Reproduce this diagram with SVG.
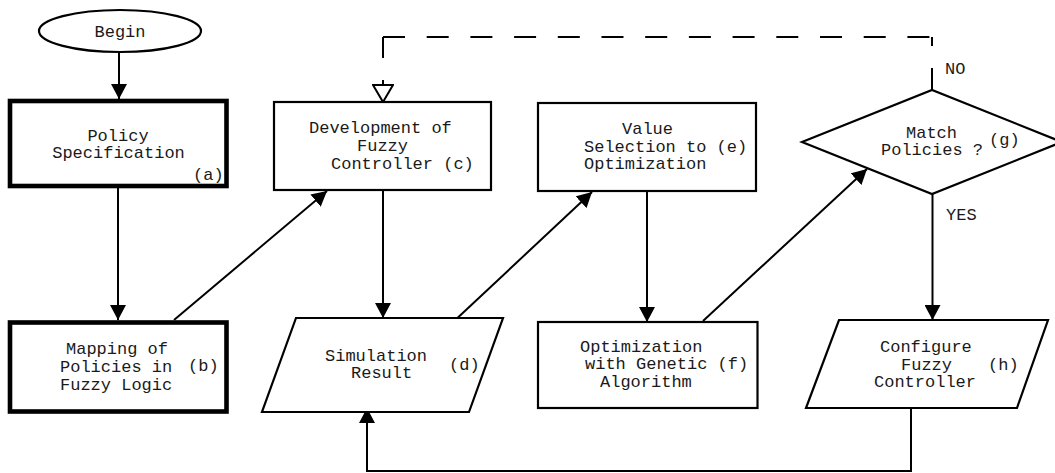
<svg xmlns="http://www.w3.org/2000/svg" width="1055" height="473" viewBox="0 0 1055 473">
<style>
.sh{fill:#fff;stroke:#000;stroke-width:2.2}
.thick{fill:#fff;stroke:#000;stroke-width:4.6}
.t{font-family:"Liberation Mono","Courier New",monospace;font-size:17px;fill:#1a1a1a}
.c{text-anchor:middle}
.ln{fill:none;stroke:#000;stroke-width:2}
.ds{fill:none;stroke:#000;stroke-width:2}
</style>
<defs>
<marker id="ah" viewBox="0 0 15 16" refX="15" refY="8" markerWidth="15" markerHeight="16" markerUnits="userSpaceOnUse" orient="auto"><path d="M0,0 L15,8 L0,16 z" fill="#000"/></marker>
<marker id="oh" viewBox="-1 -1 19 22" refX="17" refY="10" markerWidth="19" markerHeight="22" markerUnits="userSpaceOnUse" orient="auto"><path d="M0,0 L17,10 L0,20 z" fill="#fff" stroke="#000" stroke-width="2"/></marker>
</defs>
<rect width="1055" height="473" fill="#fff"/>
<g id="connectors">
<line class="ln" x1="119" y1="52" x2="119" y2="99" marker-end="url(#ah)"/>
<line class="ln" x1="118" y1="188" x2="118" y2="320" marker-end="url(#ah)"/>
<line class="ln" x1="174" y1="320" x2="327" y2="191" marker-end="url(#ah)"/>
<line class="ln" x1="383" y1="191" x2="383" y2="318" marker-end="url(#ah)"/>
<line class="ln" x1="451" y1="324" x2="592" y2="192" marker-end="url(#ah)"/>
<line class="ln" x1="647" y1="191" x2="647" y2="322" marker-end="url(#ah)"/>
<line class="ln" x1="703" y1="321" x2="867" y2="169" marker-end="url(#ah)"/>
<line class="ln" x1="932.5" y1="194" x2="932.5" y2="320" marker-end="url(#ah)"/>
<polyline class="ln" points="911,408 911,471 367,471 367,408" marker-end="url(#ah)"/>
<line class="ds" x1="932" y1="90" x2="932" y2="37" stroke-dasharray="22 22"/>
<line class="ds" x1="383" y1="37" x2="932" y2="37" stroke-dasharray="22 21.7"/>
<line class="ds" x1="383" y1="37" x2="383" y2="102" stroke-dasharray="21 22" marker-end="url(#oh)"/>
<text class="t" x="945" y="74">NO</text>
<text class="t" x="946" y="220">YES</text>
</g>
<g id="begin">
<ellipse class="sh" cx="120" cy="31" rx="81" ry="21"/>
<text class="t c" x="120" y="37">Begin</text>
</g>
<g id="node-a">
<rect class="thick" x="10" y="101" width="216.5" height="85"/>
<text class="t c" x="118" y="141">Policy</text>
<text class="t c" x="118.5" y="158">Specification</text>
<text class="t" x="193" y="180">(a)</text>
</g>
<g id="node-b">
<rect class="thick" x="10" y="322.5" width="216.5" height="89"/>
<text class="t" x="66" y="354">Mapping of</text>
<text class="t" x="60" y="372">Policies in</text>
<text class="t" x="60" y="390">Fuzzy Logic</text>
<text class="t" x="188" y="371">(b)</text>
</g>
<g id="node-c">
<rect class="sh" x="274" y="102" width="217" height="88"/>
<text class="t" x="309" y="133">Development of</text>
<text class="t" x="357" y="151">Fuzzy</text>
<text class="t" x="331" y="169">Controller  (c)</text>
</g>
<g id="node-d">
<polygon class="sh" points="296,318 503,318 469,412 262,412"/>
<text class="t" x="325" y="361">Simulation</text>
<text class="t" x="351" y="378">Result</text>
<text class="t" x="449" y="370">(d)</text>
</g>
<g id="node-e">
<rect class="sh" x="538" y="103" width="218" height="88"/>
<text class="t" x="622" y="134">Value</text>
<text class="t" x="584" y="152">Selection to (e)</text>
<text class="t" x="584" y="169">Optimization</text>
</g>
<g id="node-f">
<rect class="sh" x="538" y="322" width="219.5" height="86"/>
<text class="t" x="580" y="352">Optimization</text>
<text class="t" x="585" y="369">with Genetic (f)</text>
<text class="t" x="600" y="387">Algorithm</text>
</g>
<g id="node-g">
<polygon class="sh" points="802,142 932,90 1062,142 932,194"/>
<text class="t" x="906" y="138">Match</text>
<text class="t" x="881" y="155">Policies ?</text>
<text class="t" x="989" y="145">(g)</text>
</g>
<g id="node-h">
<polygon class="sh" points="839,320 1048,320 1017,408 806,408"/>
<text class="t" x="880" y="352">Configure</text>
<text class="t" x="901" y="370">Fuzzy</text>
<text class="t" x="988" y="370">(h)</text>
<text class="t" x="874" y="387">Controller</text>
</g>
</svg>
